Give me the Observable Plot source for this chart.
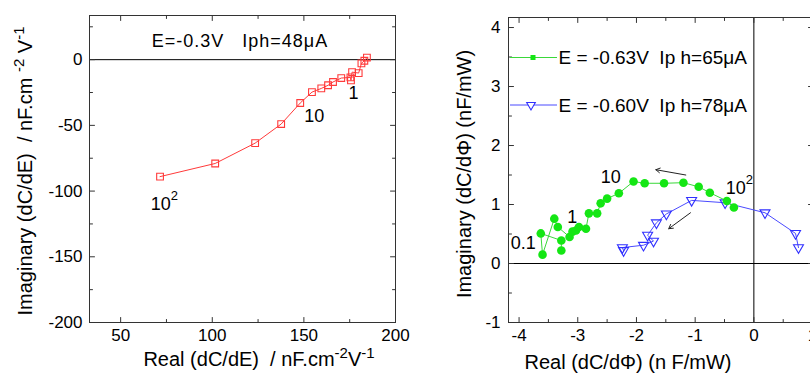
<!DOCTYPE html>
<html>
<head>
<meta charset="utf-8">
<script src="https://cdn.jsdelivr.net/npm/d3@7"></script>
<script src="https://cdn.jsdelivr.net/npm/@observablehq/plot@0.6"></script>
<style>
  html, body { margin: 0; padding: 0; background: #fff; overflow: hidden; }
  #wrap { position: relative; width: 810px; height: 374px; overflow: hidden; background: #fff; }
  #left { position: absolute; left: 0; top: 0; width: 410px; height: 374px; }
  #right { position: absolute; left: 410px; top: 0; width: 420px; height: 374px; }
  svg text.pre { white-space: pre; }
</style>
</head>
<body>
<div id="wrap"><div id="left"></div><div id="right"></div></div>
<script>
const FONT = "'Liberation Sans', Arial, Helvetica, sans-serif";

// ---------------- Left panel (dC/dE), E=-0.3V ----------------
const leftReal = [71.5, 101.6, 123.4, 137.6, 148.0, 154.4, 159.5, 163.2, 165.9, 170.4, 175.4, 175.7, 176.3, 179.9, 181.4, 183.0, 184.4];
const leftImag = [-89.0, -79.0, -63.5, -49.0, -33.0, -24.7, -21.9, -19.5, -17.0, -14.0, -13.5, -15.8, -9.5, -10.2, -2.8, -0.8, 1.6];
const leftXTicks = [50, 100, 150, 200];
const leftXMinor = [75, 125, 175];
const leftYTicks = [0, -50, -100, -150, -200];
const leftYMinor = [25, -25, -75, -125, -175];
const leftAnnText = ["10", "10", "1"];
const leftAnnSup = ["2", "", ""];
const leftAnnX = [66.4, 150.2, 174.3];
const leftAnnY = [-110.3, -42.9, -25.8];
const leftTitle = "E=-0.3V   Iph=48μA";

// ---------------- Right panel (dC/dΦ) ----------------
const seriesNames = ["E = -0.63V  Ip h=65μA", "E = -0.60V  Ip h=78μA"];
const greenReal = [-3.28, -3.28, -3.63, -3.60, -3.40, -3.34, -3.14, -3.09, -3.03, -2.98, -2.86, -2.81, -2.67, -2.61, -2.50, -2.30, -2.05, -1.86, -1.53, -1.20, -0.94, -0.75, -0.46, -0.34];
const greenImag = [0.22, 0.39, 0.51, 0.15, 0.76, 0.62, 0.45, 0.54, 0.56, 0.62, 0.59, 0.85, 0.85, 1.02, 1.10, 1.19, 1.39, 1.36, 1.36, 1.37, 1.30, 1.20, 1.06, 0.95];
const blueReal = [-2.22, -2.24, -1.88, -1.71, -1.81, -1.66, -1.49, -1.06, -0.49, 0.19, 0.71, 0.76];
const blueImag = [0.22, 0.27, 0.31, 0.38, 0.48, 0.69, 0.84, 1.07, 1.03, 0.86, 0.51, 0.27];
const rightXTicks = [-4, -3, -2, -1, 0, 1];
const rightXMinor = [-3.5, -2.5, -1.5, -0.5, 0.5];
const rightYTicks = [-1, 0, 1, 2, 3, 4];
const rightYMinor = [-0.5, 0.5, 1.5, 2.5, 3.5];
const rightAnnText = ["0.1", "1", "10", "10"];
const rightAnnSup = ["", "", "", "2"];
const rightAnnX = [-4.14, -3.18, -2.61, -0.48];
const rightAnnY = [0.34, 0.78, 1.46, 1.27];
const arrowX1 = [-1.16, -1.08];
const arrowY1 = [1.50, 0.86];
const arrowX2 = [-1.67, -1.45];
const arrowY2 = [1.59, 0.59];

const RED = "#ff3a3a", GREEN = "#14e614", GREENLINE = "#3ad83a", BLUE = "#3030ff", BLUELINE = "#4a4aff";
const FRAME = "#333";

const tickShape = { draw(ctx, l) { ctx.moveTo(0, 0); ctx.lineTo(0, -l); } };
function boxTicks(xs, ys, len) {
  const common = { length: len, anchor: "start", shape: tickShape, stroke: FRAME, strokeWidth: 1 };
  return [
    Plot.vector(xs, { x: d => d, frameAnchor: "bottom", rotate: 0, ...common }),
    Plot.vector(xs, { x: d => d, frameAnchor: "top", rotate: 180, ...common }),
    Plot.vector(ys, { y: d => d, frameAnchor: "left", rotate: 90, ...common }),
    Plot.vector(ys, { y: d => d, frameAnchor: "right", rotate: 270, ...common })
  ];
}
function annotations(texts, sups, xs, ys) {
  const idx = texts.map((_, i) => i);
  const supIdx = idx.filter(i => sups[i]);
  return [
    Plot.text(idx, { x: i => xs[i], y: i => ys[i], text: i => texts[i], textAnchor: "start", lineAnchor: "middle", fontSize: 18, fill: "#000" }),
    Plot.text(supIdx, { x: i => xs[i], y: i => ys[i], text: i => sups[i], textAnchor: "start", lineAnchor: "middle", dx: 20, dy: -9, fontSize: 13, fill: "#000" })
  ];
}

const leftData = leftReal.map((x, i) => ({ x, y: leftImag[i] }));
const left = Plot.plot({
  width: 410, height: 374,
  marginLeft: 89, marginRight: 15, marginTop: 15, marginBottom: 52,
  style: { fontFamily: FONT, fontSize: "17px", color: "#000", background: "transparent", maxWidth: "none" },
  x: { domain: [33, 200] },
  y: { domain: [-200, 33.6] },
  marks: [
    Plot.ruleY([0], { stroke: "#000", strokeWidth: 1 }),
    Plot.frame({ stroke: FRAME }),
    ...boxTicks(leftXTicks, leftYTicks, 5),
    ...boxTicks(leftXMinor, leftYMinor, 3),
    Plot.axisX(leftXTicks, { tickSize: 0, tickPadding: 6, tickFormat: d => String(d), label: null, fontSize: 17 }),
    Plot.axisY(leftYTicks, { tickSize: 0, tickPadding: 7, tickFormat: d => String(d), label: null, fontSize: 17 }),
    Plot.line(leftData, { x: "x", y: "y", stroke: RED, strokeWidth: 1 }),
    Plot.dot(leftData, { x: "x", y: "y", symbol: "square", r: 3.8, stroke: RED, fill: "none", strokeWidth: 1.1 }),
    ...annotations(leftAnnText, leftAnnSup, leftAnnX, leftAnnY)
  ]
});
document.getElementById("left").appendChild(left);

const greenData = greenReal.map((x, i) => ({ x, y: greenImag[i] }));
const blueData = blueReal.map((x, i) => ({ x, y: blueImag[i] }));
const arrows = arrowX1.map((x1, i) => ({ x1, y1: arrowY1[i], x2: arrowX2[i], y2: arrowY2[i] }));
const right = Plot.plot({
  width: 420, height: 374,
  marginLeft: 98, marginRight: 17, marginTop: 17, marginBottom: 52,
  style: { fontFamily: FONT, fontSize: "17px", color: "#000", background: "transparent", maxWidth: "none" },
  x: { domain: [-4.18, 1.016] },
  y: { domain: [-1.0, 4.17] },
  marks: [
    Plot.ruleY([0], { stroke: "#000", strokeWidth: 1 }),
    Plot.ruleX([0], { stroke: "#000", strokeWidth: 1 }),
    Plot.frame({ stroke: FRAME }),
    ...boxTicks(rightXTicks, rightYTicks, 5),
    ...boxTicks(rightXMinor, rightYMinor, 3),
    Plot.axisX(rightXTicks, { tickSize: 0, tickPadding: 6, tickFormat: d => String(d), label: null, fontSize: 17 }),
    Plot.axisY(rightYTicks, { tickSize: 0, tickPadding: 8, tickFormat: d => String(d), label: null, fontSize: 17 }),
    Plot.line(blueData, { x: "x", y: "y", stroke: BLUELINE, strokeWidth: 1 }),
    Plot.dot(blueData, { x: "x", y: "y", symbol: "triangle", rotate: 180, r: 3.7, stroke: BLUE, fill: "none", strokeWidth: 1.1 }),
    Plot.line(greenData, { x: "x", y: "y", stroke: GREENLINE, strokeWidth: 1 }),
    Plot.dot(greenData, { x: "x", y: "y", r: 4.3, fill: GREEN, stroke: "none" }),
    Plot.arrow(arrows, { x1: "x1", y1: "y1", x2: "x2", y2: "y2", stroke: "#222", strokeWidth: 1, headLength: 7 }),
    ...annotations(rightAnnText, rightAnnSup, rightAnnX, rightAnnY)
  ]
});
document.getElementById("right").appendChild(right);

// ---------- Titles, axis labels and legend (real SVG text) ----------
function addLabel(svg, x, y, parts, { size = 20, rotate = 0, anchor = "middle", spacing = 0 } = {}) {
  const t = d3.select(svg).append("text")
    .attr("class", "pre")
    .attr("transform", `translate(${x},${y}) rotate(${rotate})`)
    .attr("text-anchor", anchor)
    .attr("font-family", FONT)
    .attr("font-size", size)
    .attr("letter-spacing", spacing)
    .attr("fill", "#000");
  let shifted = false;
  parts.forEach(p => {
    const s = t.append("tspan").text(p.t);
    if (p.sup) { s.attr("font-size", size * 0.75).attr("dy", -size * 0.38); shifted = true; }
    else if (shifted) { s.attr("dy", size * 0.38); shifted = false; }
  });
  return t;
}

addLabel(left, 240, 46.5, [{ t: leftTitle }], { size: 18, spacing: 1 });
addLabel(left, 32, 171, [
  { t: "Imaginary (dC/dE)  / nF.cm " }, { t: "-2", sup: true }, { t: " V" }, { t: "-1", sup: true }
], { size: 20, rotate: -90 });
addLabel(left, 259, 366, [
  { t: "Real (dC/dE)  / nF.cm" }, { t: "-2", sup: true }, { t: "V" }, { t: "-1", sup: true }
], { size: 20 });

addLabel(right, 61, 174, [{ t: "Imaginary (dC/dΦ) (nF/mW)" }], { size: 20, rotate: -90 });
addLabel(right, 218, 369, [{ t: "Real (dC/dΦ) (n F/mW)" }], { size: 20 });

// in-plot legend
const lg = d3.select(right).append("g");
const legendRows = [
  { name: seriesNames[0], line: GREENLINE, y: 57.5, kind: "square" },
  { name: seriesNames[1], line: BLUELINE, y: 105, kind: "triangle" }
];
legendRows.forEach(r => {
  lg.append("line").attr("x1", 100).attr("x2", 147).attr("y1", r.y).attr("y2", r.y).attr("stroke", r.line).attr("stroke-width", 1);
  if (r.kind === "square") {
    lg.append("rect").attr("x", 120.5).attr("y", r.y - 2.5).attr("width", 5).attr("height", 5).attr("fill", GREEN);
  } else {
    lg.append("path").attr("d", d3.symbol(d3.symbolTriangle, Math.PI * 3.2 * 3.2)()).attr("transform", `translate(121,${r.y}) rotate(180)`).attr("fill", "#fff").attr("stroke", BLUE).attr("stroke-width", 1.1);
  }
  addLabel(right, 148.5, r.y + 6.5, [{ t: r.name }], { size: 19, anchor: "start" });
});
</script>
</body>
</html>
